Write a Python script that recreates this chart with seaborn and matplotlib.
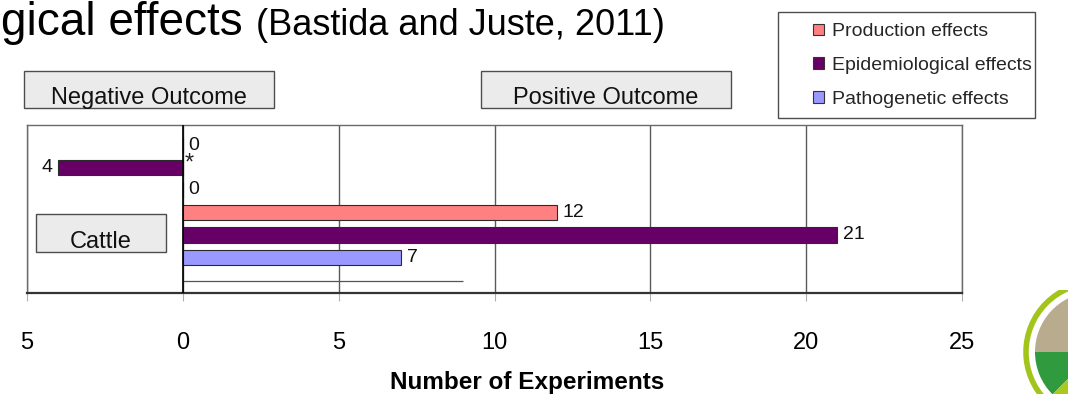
import numpy as np
import pandas as pd
import matplotlib
matplotlib.use("Agg")
import matplotlib.pyplot as plt
from matplotlib.patches import Rectangle, Circle, Wedge, Patch
import seaborn as sns

# ---- data -------------------------------------------------------------
groups = ["Cattle (negative outcome)", "Cattle"]
effects = ["Production effects", "Epidemiological effects", "Pathogenetic effects"]
production = [0, 12]
epidemiological = [-4, 21]
pathogenetic = [0, 7]
x_ticks = [-5, 0, 5, 10, 15, 20, 25]
x_tick_labels = ["5", "0", "5", "10", "15", "20", "25"]
palette = ["#FF8080", "#660066", "#9999FF"]
# thin reference rule under the cattle group (y position, x start, x end)
rule_y, rule_x0, rule_x1 = 1.68, 0, 9

df = pd.DataFrame({
    "group": groups * len(effects),
    "effect": np.repeat(effects, len(groups)),
    "experiments": production + epidemiological + pathogenetic,
})

# ---- figure -----------------------------------------------------------
sns.set_theme(style="white")
plt.rcParams["font.family"] = ["Liberation Sans", "DejaVu Sans"]

W, H = 1068, 394
fig = plt.figure(figsize=(W / 100, H / 100), dpi=100)
fig.patch.set_facecolor("white")


def fx(px):
    return px / W


def fy(py):
    return 1 - py / H


ax = fig.add_axes([fx(27), fy(293), fx(962) - fx(27), fy(125) - fy(293)])

sns.barplot(
    data=df, x="experiments", y="group", hue="effect",
    order=groups, hue_order=effects, palette=palette, saturation=1,
    orient="h", width=1.0, gap=0.33, errorbar=None,
    edgecolor="#2b2b2b", linewidth=0.8, legend=False, ax=ax,
)

ax.set_xlim(-5, 25)
ax.set_ylim(1.86, -0.63)
ax.set_xticks(x_ticks, x_tick_labels)
ax.set_yticks([])
ax.set_ylabel("")
ax.grid(axis="x", color="#5a5a5a", lw=1)
ax.set_axisbelow(True)
ax.axvline(0, color="black", lw=1.2, zorder=3)
ax.hlines(rule_y, rule_x0, rule_x1, color="#555555", lw=0.9)

for name, sp in ax.spines.items():
    sp.set_color("#6a6a6a")
    sp.set_linewidth(1.0)
ax.spines["bottom"].set_color("#333333")
ax.spines["bottom"].set_linewidth(1.6)

ax.tick_params(axis="x", bottom=True, length=6, width=0.8, color="#b0b0b0",
               pad=22, labelsize=17, labelcolor="black")

ax.set_xlabel("Number of Experiments", fontsize=17.5, fontweight="bold",
              color="black")
ax.xaxis.set_label_coords(0.535, -0.465)

# value labels at the bar ends
for cont in ax.containers:
    ax.bar_label(cont, labels=[f"{abs(v):g}" for v in cont.datavalues],
                 padding=4, fontsize=14, color="#111111")

# significance marker on the negative epidemiological bar
neg_idx = int(np.argmin(epidemiological))
ax.annotate("*", xy=(0, neg_idx), xytext=(1, -1.5), textcoords="offset points",
            ha="left", va="baseline", fontsize=17, color="#222222")

# ---- legend -------------------------------------------------------------
handles = [Patch(facecolor=c, edgecolor="#333333", lw=0.8, label=e)
           for c, e in zip(palette, effects)]
fig.legend(handles=handles, loc="center left",
           bbox_to_anchor=(fx(813), fy(65.5)), bbox_transform=fig.transFigure,
           frameon=False, fontsize=14, handlelength=0.55, handleheight=0.55,
           handletextpad=0.45, labelspacing=0.86, borderpad=0, borderaxespad=0)
fig.add_artist(Rectangle((fx(778), fy(118)), fx(1035) - fx(778), fy(12) - fy(118),
                         transform=fig.transFigure, fill=False,
                         edgecolor="#4d4d4d", lw=1))

# ---- labelled boxes -----------------------------------------------------
def label_box(x0, y0, x1, y1, text, baseline, size=17):
    fig.add_artist(Rectangle((fx(x0), fy(y1)), fx(x1) - fx(x0), fy(y0) - fy(y1),
                             transform=fig.transFigure, facecolor="#ebebeb",
                             edgecolor="#4d4d4d", lw=1))
    fig.text(fx((x0 + x1) / 2), fy(baseline), text, ha="center",
             va="baseline", fontsize=size, color="#111111")


label_box(24, 71, 274, 108, "Negative Outcome", 104)
label_box(481, 71, 731, 108, "Positive Outcome", 104)
label_box(36, 214, 166, 252, "Cattle", 248)

# ---- heading ------------------------------------------------------------
fig.text(fx(1), fy(35), "gical effects", fontsize=33, va="baseline", color="black")
fig.text(fx(256), fy(35), "(Bastida and Juste, 2011)", fontsize=26,
         va="baseline", color="black")

# ---- emblem in the corner (y axis runs downward, so angles are mirrored) --
lax = fig.add_axes([fx(1005), 0, fx(1068) - fx(1005), fy(290) - fy(394)])
lax.set_xlim(1005, 1068)
lax.set_ylim(394, 290)
lax.set_aspect("equal")
lax.axis("off")
c = (1095, 352)
lax.add_patch(Wedge(c, 60, 180, 265, facecolor="#b8ab8e", edgecolor="none"))
lax.add_patch(Wedge(c, 60, 135, 180, facecolor="#2f9a3e", edgecolor="none"))
lax.add_patch(Wedge(c, 60, 85, 135, facecolor="#a9c91f", edgecolor="none"))
lax.add_patch(Circle(c, 69, fill=False, edgecolor="#a3c41a", lw=4))

fig.savefig("out.png", dpi=100, facecolor="white")
